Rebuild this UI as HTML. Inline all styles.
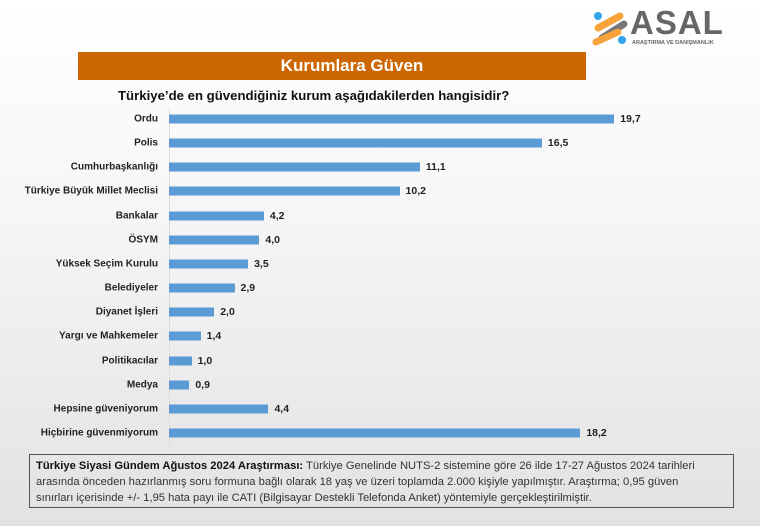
<!DOCTYPE html>
<html><head><meta charset="utf-8"><style>
body{margin:0;width:760px;height:526px;overflow:hidden;background:linear-gradient(#ffffff 0%,#f6f6f6 40%,#e2e2e2 100%);font-family:"Liberation Sans",sans-serif;position:relative}
.a{position:absolute}
.lab{position:absolute;right:602px;font-size:10px;font-weight:bold;color:#222;white-space:nowrap;transform:translateY(-50%)}
.bar{position:absolute;left:169px;height:9px;background:#5b9bd5;transform:translateY(-50%)}
.val{position:absolute;font-size:10.5px;font-weight:bold;color:#222;transform:translateY(-50%)}
</style></head><body>
<div class="a" style="left:78px;top:52px;width:508px;height:28px;background:#cc6600;color:#fff;font-weight:bold;font-size:17px;text-align:center;line-height:28px;padding-left:40px;box-sizing:border-box">Kurumlara Güven</div>
<div class="a" style="left:118px;top:88px;font-size:13.2px;font-weight:bold;color:#111">Türkiye’de en güvendiğiniz kurum aşağıdakilerden hangisidir?</div>
<svg class="a" style="left:590px;top:8px" width="40" height="40"><g stroke-linecap="round" stroke-width="7"><line x1="8" y1="20" x2="30" y2="8" stroke="#f7a33a"/><line x1="12" y1="30" x2="34" y2="16" stroke="#777"/><line x1="6" y1="34" x2="28" y2="24" stroke="#f7a33a"/></g><circle cx="8" cy="8" r="4" fill="#2fa6e8"/><circle cx="32" cy="32" r="4" fill="#2fa6e8"/></svg>
<div class="a" style="left:630px;top:4px;font-size:33px;font-weight:bold;color:#666;letter-spacing:1px">ASAL</div>
<div class="a" style="left:632px;top:40px;font-size:5.5px;font-weight:bold;color:#666">ARAŞTIRMA VE DANIŞMANLIK</div>
<div class="a" style="left:169px;top:108px;width:1px;height:338px;background:#ddd"></div>
<div id="c"></div>
<div class="a" style="left:29px;top:454px;width:705px;height:54px;border:1px solid #555;box-sizing:border-box;padding:3px 6px;font-size:11.2px;line-height:16px;color:#333;white-space:nowrap"><b style="color:#111">Türkiye Siyasi Gündem Ağustos 2024 Araştırması:</b> Türkiye Genelinde NUTS-2 sistemine göre 26 ilde 17-27 Ağustos 2024 tarihleri<br>arasında önceden hazırlanmış soru formuna bağlı olarak 18 yaş ve üzeri toplamda 2.000 kişiyle yapılmıştır. Araştırma; 0,95 güven<br>sınırları içerisinde +/- 1,95 hata payı ile CATI (Bilgisayar Destekli Telefonda Anket) yöntemiyle gerçekleştirilmiştir.</div>
<script>
var d=[["Ordu",19.7],["Polis",16.5],["Cumhurbaşkanlığı",11.1],["Türkiye Büyük Millet Meclisi",10.2],["Bankalar",4.2],["ÖSYM",4.0],["Yüksek Seçim Kurulu",3.5],["Belediyeler",2.9],["Diyanet İşleri",2.0],["Yargı ve Mahkemeler",1.4],["Politikacılar",1.0],["Medya",0.9],["Hepsine güveniyorum",4.4],["Hiçbirine güvenmiyorum",18.2]];
var h="";d.forEach(function(r,i){var y=119+i*24.15,w=r[1]*22.6;h+='<div class="lab" style="top:'+y+'px">'+r[0]+'</div><div class="bar" style="top:'+y+'px;width:'+w+'px"></div><div class="val" style="top:'+y+'px;left:'+(169+w+6)+'px">'+r[1].toFixed(1).replace(".",",")+'</div>';});
document.getElementById("c").innerHTML=h;
</script>
</body></html>
